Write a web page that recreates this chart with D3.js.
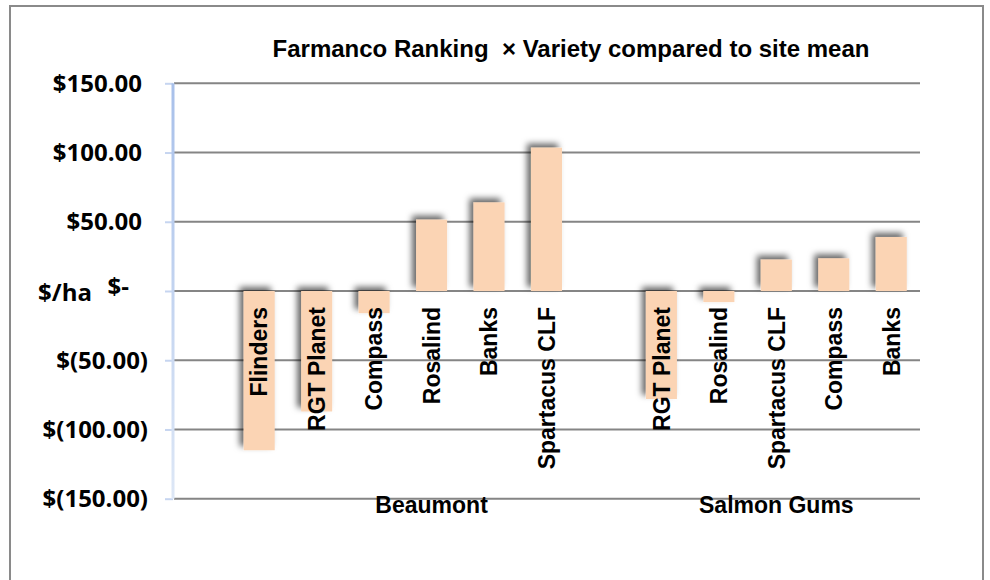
<!DOCTYPE html>
<html>
<head>
<meta charset="utf-8">
<script src="https://cdn.jsdelivr.net/npm/d3@7"></script>
<style>
  body { margin: 0; background: #fff; }
  svg { display: block; }
  .title, .cat, .site { font-family: "Liberation Sans", Arial, sans-serif; font-weight: bold; fill: #000; }
  .title { white-space: pre; }
  .ylab { font-family: "Open Sans", sans-serif; font-weight: bold; fill: #000; }
</style>
</head>
<body>
<svg id="chart" width="990" height="580"></svg>
<script>
// data
const sites = ['Beaumont', 'Salmon Gums']
const beaumontVarieties = ['Flinders', 'RGT Planet', 'Compass', 'Rosalind', 'Banks', 'Spartacus CLF']
const beaumontValues = [-115, -87, -16, 51.5, 64, 103.5]
const salmonGumsVarieties = ['RGT Planet', 'Rosalind', 'Spartacus CLF', 'Compass', 'Banks']
const salmonGumsValues = [-78, -8, 22.7, 23.6, 39]
const yTicks = [150, 100, 50, 0, -50, -100, -150]
const yTitle = '$/ha'
const title = 'Farmanco Ranking  \u00d7 Variety compared to site mean'

// slots like the excel sheet: blank, Beaumont rows, blank, Salmon Gums rows
let slots = [{ site: null, variety: '', value: null }]
beaumontVarieties.forEach((v, i) => slots.push({ site: sites[0], variety: v, value: beaumontValues[i] }))
slots.push({ site: sites[0], variety: '', value: null })
salmonGumsVarieties.forEach((v, i) => slots.push({ site: sites[1], variety: v, value: salmonGumsValues[i] }))

const margin = { left: 173, right: 70, top: 83.3, bottom: 81.3 }
const W = 990, H = 580

const svg = d3.select('#chart')

const defs = svg.append('defs')
defs.append('filter')
    .attr('id', 'shadow')
    .attr('x', '-50%').attr('y', '-50%').attr('width', '200%').attr('height', '200%')
  .append('feDropShadow')
    .attr('dx', -4).attr('dy', -4)
    .attr('stdDeviation', 3)
    .attr('flood-color', '#000')
    .attr('flood-opacity', 0.6)
const grad = defs.append('linearGradient')
    .attr('id', 'axisGrad')
    .attr('x1', 0).attr('y1', 0).attr('x2', 0).attr('y2', 1)
grad.append('stop').attr('offset', '0%').attr('stop-color', '#a8c0ea')
grad.append('stop').attr('offset', '100%').attr('stop-color', '#dde7f6')

// outer frame
svg.append('rect')
  .attr('x', 10).attr('y', 6)
  .attr('width', 973).attr('height', 620)
  .attr('fill', 'none')
  .attr('stroke', '#8a8a8a')
  .attr('stroke-width', 2)

const x = d3.scaleBand()
  .domain(d3.range(slots.length))
  .range([margin.left, W - margin.right])
  .paddingInner(0.46)
  .paddingOuter(0.23)

const y = d3.scaleLinear()
  .domain([-150, 150])
  .range([H - margin.bottom, margin.top])

// gridlines
svg.append('g')
  .selectAll('line')
  .data(yTicks)
  .join('line')
    .attr('x1', margin.left + 1)
    .attr('x2', W - margin.right)
    .attr('y1', d => y(d))
    .attr('y2', d => y(d))
    .attr('stroke', '#858585')
    .attr('stroke-width', 2)

// y axis
const yAxis = svg.append('g')
    .attr('transform', `translate(${margin.left},0)`)
    .call(d3.axisLeft(y).tickValues(yTicks).tickSize(8).tickFormat(''))
yAxis.select('.domain').remove()
yAxis.selectAll('.tick line')
  .attr('stroke', '#c6d5f0')
  .attr('stroke-width', 2)
svg.append('rect')
  .attr('x', margin.left - 1.5)
  .attr('y', y(150))
  .attr('width', 3)
  .attr('height', y(-150) - y(150))
  .attr('fill', 'url(#axisGrad)')

const fmt = d3.format(',.2f')
svg.append('g')
  .selectAll('text')
  .data(yTicks)
  .join('text')
    .attr('class', 'ylab')
    .attr('font-size', 24)
    .attr('text-anchor', 'end')
    .attr('x', d => d > 0 ? 142 : d < 0 ? 148 : 129)
    .attr('y', d => y(d) + (d === 0 ? 4 : 8.5))
    .text(d => d > 0 ? '$' + fmt(d) : d < 0 ? '$(' + fmt(-d) + ')' : '$-')

svg.append('text')
  .attr('class', 'ylab')
  .attr('font-size', 24)
  .attr('x', 38)
  .attr('y', 301)
  .text(yTitle)

// bars
const bars = slots.map((s, i) => Object.assign({ i }, s)).filter(d => d.value !== null)
svg.append('g')
    .attr('filter', 'url(#shadow)')
  .selectAll('rect')
  .data(bars)
  .join('rect')
    .attr('x', d => x(d.i))
    .attr('width', x.bandwidth())
    .attr('y', d => y(Math.max(0, d.value)))
    .attr('height', d => Math.abs(y(d.value) - y(0)))
    .attr('fill', '#fbd4b4')

// variety labels
svg.append('g')
  .selectAll('text')
  .data(bars)
  .join('text')
    .attr('class', 'cat')
    .attr('font-size', 23)
    .attr('text-anchor', 'end')
    .attr('dy', '0.36em')
    .attr('transform', d => `translate(${x(d.i) + x.bandwidth() / 2},${y(0) + 16}) rotate(-90)`)
    .text(d => d.variety)

// site labels, centred on the span of each site's rows
svg.append('g')
  .selectAll('text')
  .data(sites)
  .join('text')
    .attr('class', 'site')
    .attr('font-size', 23)
    .attr('text-anchor', 'middle')
    .attr('x', site => {
      const idx = slots.map((s, i) => s.site === site ? i : -1).filter(i => i >= 0)
      return (x(d3.min(idx)) + x(d3.max(idx)) + x.bandwidth()) / 2
    })
    .attr('y', 513)
    .text(d => d)

svg.append('text')
  .attr('class', 'title')
  .attr('font-size', 24)
  .attr('text-anchor', 'middle')
  .attr('x', 571)
  .attr('y', 57)
  .text(title)
</script>
</body>
</html>
